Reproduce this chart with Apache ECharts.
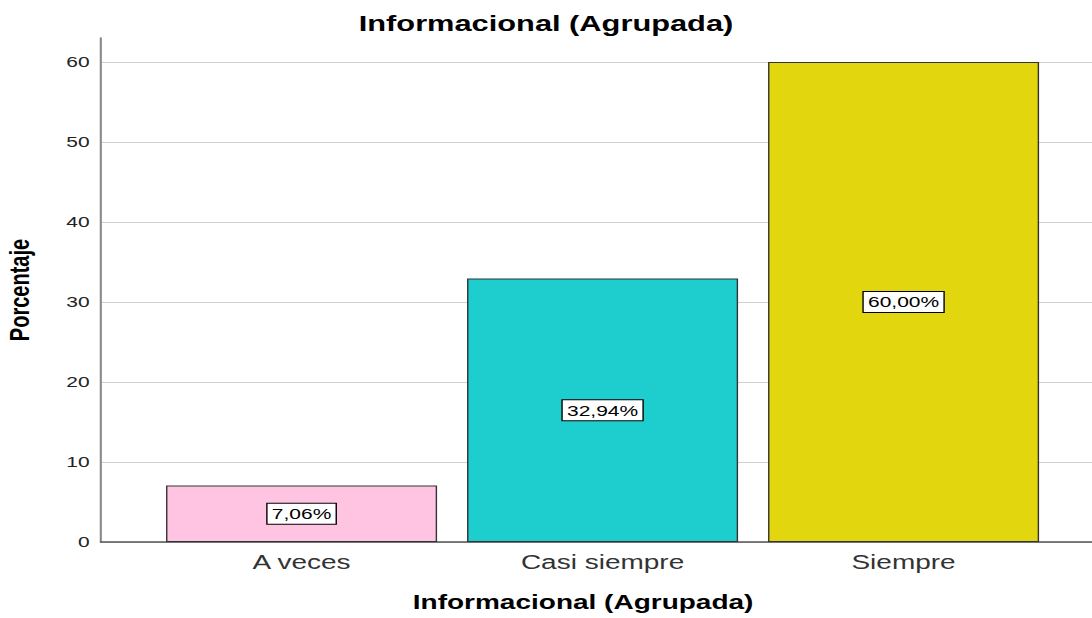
<!DOCTYPE html>
<html>
<head>
<meta charset="utf-8">
<title>Informacional (Agrupada)</title>
<script src="https://cdn.jsdelivr.net/npm/echarts@6/dist/echarts.min.js"></script>
<style>
  html, body { margin: 0; padding: 0; background: #fff; overflow: hidden; }
  /* the reference is stretched sideways, so the chart is drawn narrow and scaled */
  #chart {
    width: 780px;
    height: 618px;
    transform: scaleX(1.4);
    transform-origin: 0 0;
  }
</style>
</head>
<body>
<div id="chart"></div>
<script>
// categories and percentages
var categories = ['A veces', 'Casi siempre', 'Siempre']
var percentages = [7.06, 32.94, 60.0]
var barColors = ['#fec4e2', '#1ecdcd', '#e2d60e']
var yTicks = [0, 10, 20, 30, 40, 50, 60]

var font = '"Liberation Sans", Arial, sans-serif'

var myChart = echarts.init(document.getElementById('chart'), null, { renderer: 'svg' })

var option = {
  animation: false,
  title: {
    text: 'Informacional (Agrupada)',
    left: 'center',
    top: 8,
    textStyle: {
      fontFamily: font,
      fontSize: 22,
      fontWeight: 'bold',
      color: '#000'
    }
  },
  grid: {
    left: 72,
    right: 0,
    top: 38,
    bottom: 76,
    outerBoundsMode: 'none'
  },
  xAxis: {
    type: 'value',
    min: -0.667,
    max: 2.626,
    name: 'Informacional (Agrupada)',
    nameLocation: 'middle',
    nameGap: 50,
    nameTextStyle: {
      fontFamily: font,
      fontSize: 20,
      fontWeight: 'bold',
      color: '#000',
      padding: [0, 19, 0, 0]
    },
    axisLine: { show: true, onZero: false, lineStyle: { color: '#555', width: 1.5 } },
    axisTick: { show: false, customValues: [0, 1, 2] },
    splitLine: { show: false },
    axisLabel: {
      customValues: [0, 1, 2],
      margin: 10,
      fontFamily: font,
      fontSize: 20,
      color: '#333',
      formatter: function(v) {
        return categories[Math.round(v)]
      }
    }
  },
  yAxis: {
    type: 'value',
    min: 0,
    max: 63,
    name: 'Porcentaje',
    nameLocation: 'middle',
    nameRotate: 90,
    nameGap: 48,
    nameTextStyle: {
      fontFamily: font,
      fontSize: 20,
      fontWeight: 'bold',
      color: '#000'
    },
    axisLine: { show: true, onZero: false, lineStyle: { color: '#888', width: 1.5 } },
    axisTick: { show: false, customValues: yTicks },
    splitLine: { show: true, lineStyle: { color: '#cfcfcf', width: 1 } },
    axisLabel: {
      customValues: yTicks,
      margin: 8,
      fontFamily: font,
      fontSize: 15,
      color: '#222'
    }
  },
  series: [
    {
      type: 'bar',
      barWidth: 193.6,
      data: percentages.map(function(v, i) {
        return {
          value: [i, v],
          itemStyle: { color: barColors[i] }
        }
      }),
      itemStyle: {
        borderColor: '#333',
        borderWidth: 1
      },
      label: {
        show: true,
        position: 'inside',
        fontFamily: font,
        fontSize: 15,
        color: '#000',
        backgroundColor: '#fff',
        borderColor: '#000',
        borderWidth: 1,
        padding: [3, 3, 2, 3],
        formatter: function(p) {
          return p.value[1].toFixed(2).replace('.', ',') + '%'
        }
      }
    }
  ]
}

myChart.setOption(option)
</script>
</body>
</html>
